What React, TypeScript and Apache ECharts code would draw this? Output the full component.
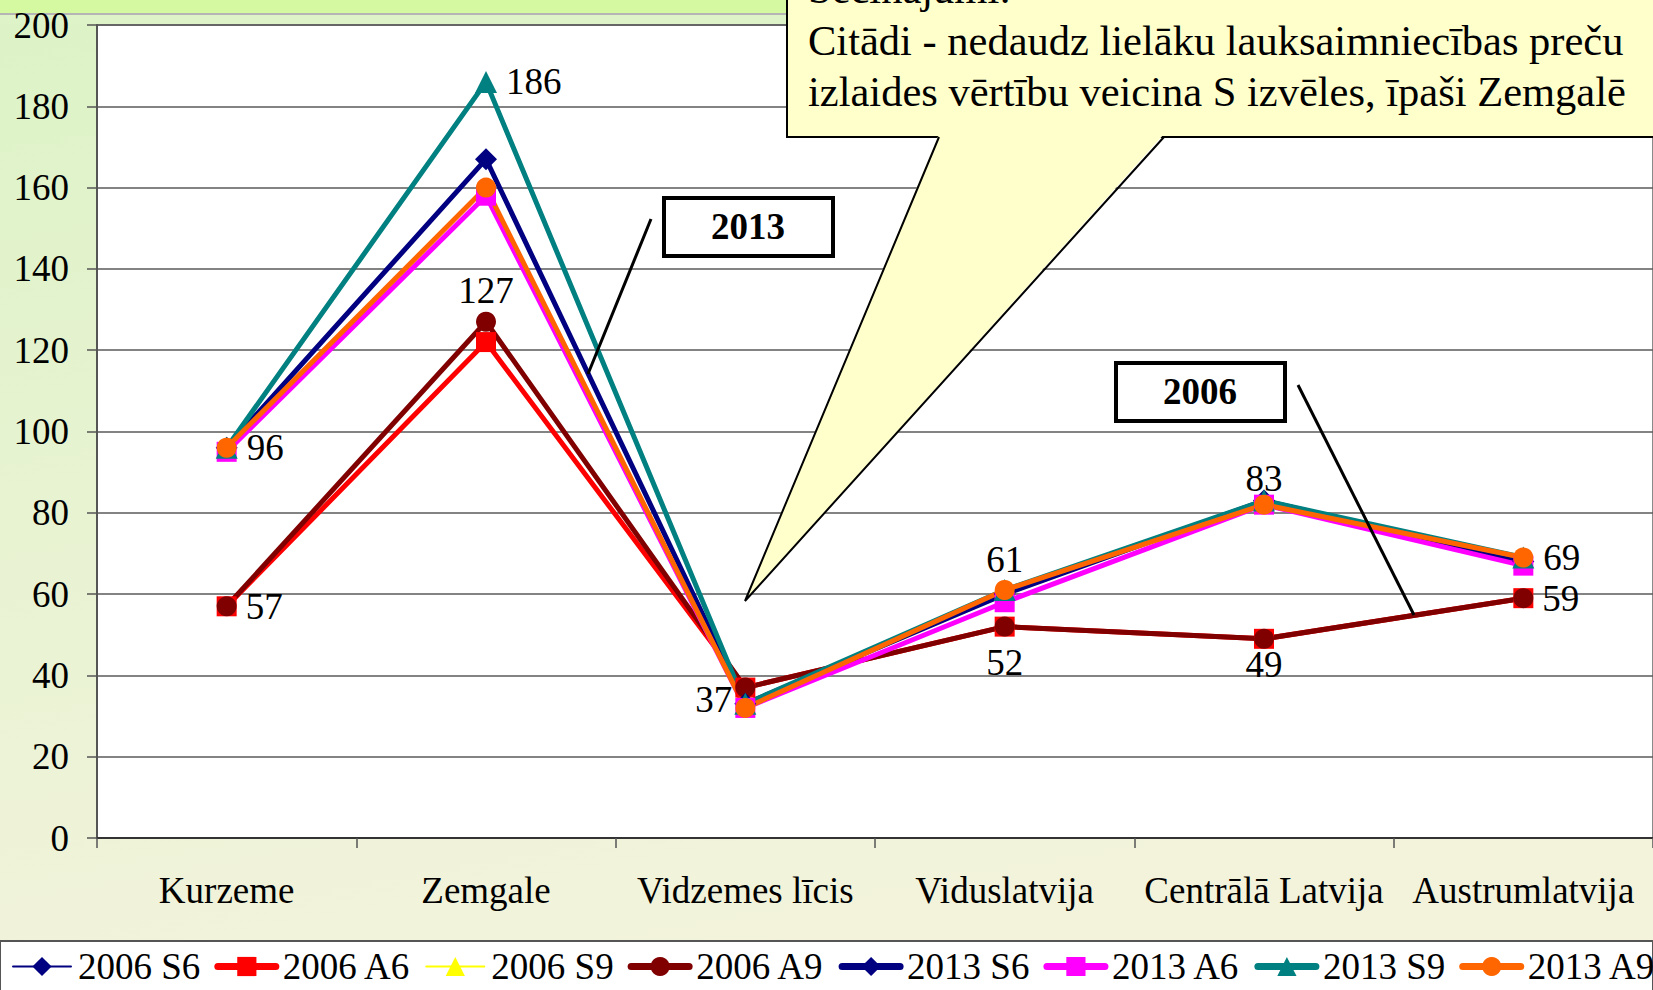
import React, { useEffect, useRef } from "react";
import * as echarts from "echarts";

const categories = ["Kurzeme", "Zemgale", "Vidzemes līcis", "Viduslatvija", "Centrālā Latvija", "Austrumlatvija"];
const yTicks = [0, 20, 40, 60, 80, 100, 120, 140, 160, 180, 200];

const s2006S6 = [57, 127, 37, 52, 49, 59];
const s2006A6 = [57, 122, 37, 52, 49, 59];
const s2006S9 = [57, 127, 37, 52, 49, 59];
const s2006A9 = [57, 127, 37, 52, 49, 59];
const s2013S6 = [96, 167, 33, 60, 83, 68];
const s2013A6 = [95, 158, 32, 58, 82, 67];
const s2013S9 = [96, 186, 33, 61, 83, 69];
const s2013A9 = [96, 160, 32, 61, 82, 69];

const seriesNames = ["2006 S6", "2006 A6", "2006 S9", "2006 A9", "2013 S6", "2013 A6", "2013 S9", "2013 A9"];

const calloutLines = [
  "Secinājumi:",
  "Citādi - nedaudz lielāku lauksaimniecības preču",
  "izlaides vērtību veicina S izvēles, īpaši Zemgalē",
];

const FONT = "'Liberation Serif', 'Times New Roman', serif";

// label placement per point: [position, distance, offsetX, offsetY] or null
type LP = [string, number, number, number] | null;
const labelPos2006: LP[] = [
  ["right", 9, 0, 0],
  ["top", 3, 0, 0],
  ["left", 9, 6, 12],
  ["bottom", 7, 0, 0],
  ["bottom", 0, 0, -3],
  ["right", 9, 0, 0],
];
const labelPos2013: LP[] = [
  ["right", 9, 0, 0],
  ["right", 9, 0, 0],
  null,
  ["top", 1, 0, 0],
  ["top", 0, 0, 7],
  ["right", 9, 0, 0],
];

function withLabels(values: number[], positions: LP[]) {
  return values.map((v, i) => {
    const p = positions[i];
    if (!p) return v;
    return {
      value: v,
      label: {
        show: true,
        position: p[0],
        distance: p[1],
        offset: [p[2], p[3]],
        fontFamily: FONT,
        fontSize: 37,
        color: "#000",
        formatter: "{c}",
      },
    };
  });
}

export default function App() {
  const ref = useRef<HTMLDivElement>(null);
  useEffect(() => {
    if (!ref.current) return;
    const chart = echarts.init(ref.current, undefined, { renderer: "svg" });

    const styles = [
      { color: "#000080", symbol: "diamond", size: 11, width: 2 },
      { color: "#ff0000", symbol: "rect", size: 20, width: 5 },
      { color: "#ffff00", symbol: "triangle", size: 11, width: 2 },
      { color: "#800000", symbol: "circle", size: 20, width: 5 },
      { color: "#000080", symbol: "diamond", size: 22, width: 5 },
      { color: "#ff00ff", symbol: "rect", size: 20, width: 5 },
      { color: "#008080", symbol: "triangle", size: 22, width: 5 },
      { color: "#ff6600", symbol: "circle", size: 20, width: 5 },
    ];
    const dataSets: any[] = [
      s2006S6,
      s2006A6,
      s2006S9,
      withLabels(s2006A9, labelPos2006),
      s2013S6,
      s2013A6,
      withLabels(s2013S9, labelPos2013),
      s2013A9,
    ];

    const series = seriesNames.map((name, i) => ({
      name,
      type: "line",
      data: dataSets[i],
      symbol: styles[i].symbol,
      symbolSize: styles[i].size,
      showAllSymbol: true,
      lineStyle: { color: styles[i].color, width: styles[i].width },
      itemStyle: { color: styles[i].color, borderWidth: 0 },
      emphasis: { disabled: true },
    }));

    const legendData = seriesNames.map((name, i) => ({
      name,
      lineStyle: { color: styles[i].color, width: styles[i].width === 2 ? 2 : 7, cap: "round" },
      itemStyle: { color: styles[i].color, borderWidth: 0 },
    }));

    const option: any = {
      animation: false,
      backgroundColor: {
        type: "linear",
        x: 0,
        y: 0,
        x2: 0.3,
        y2: 1,
        colorStops: [
          { offset: 0, color: "#dcf3c6" },
          { offset: 0.5, color: "#e8f3d2" },
          { offset: 1, color: "#f3f3dc" },
        ],
      },
      textStyle: { fontFamily: FONT },
      grid: {
        left: 97,
        top: 25,
        right: -2,
        bottom: 152,
        show: true,
        backgroundColor: "#ffffff",
        borderColor: "#8a8a8a",
        borderWidth: 2,
        containLabel: false,
      },
      xAxis: {
        type: "category",
        data: categories,
        boundaryGap: true,
        axisLine: { show: true, lineStyle: { color: "#333", width: 2 } },
        axisTick: { show: true, alignWithLabel: false, length: 10, lineStyle: { color: "#555", width: 1.5 } },
        axisLabel: { fontFamily: FONT, fontSize: 37, color: "#000", margin: 34, interval: 0 },
        splitLine: { show: false },
      },
      yAxis: {
        type: "value",
        min: yTicks[0],
        max: yTicks[yTicks.length - 1],
        interval: yTicks[1] - yTicks[0],
        axisLine: { show: true, lineStyle: { color: "#555", width: 2 } },
        axisTick: { show: true, inside: false, length: 10, lineStyle: { color: "#555", width: 1.5 } },
        axisLabel: { fontFamily: FONT, fontSize: 37, color: "#000", margin: 28 },
        splitLine: { show: true, lineStyle: { color: "#5a5a5a", width: 1.5 } },
      },
      legend: {
        show: true,
        type: "plain",
        orient: "horizontal",
        data: legendData,
        left: 12,
        top: 948,
        width: 1800,
        itemWidth: 58,
        itemHeight: 24,
        itemGap: 14,
        padding: 0,
        textStyle: { fontFamily: FONT, fontSize: 37, color: "#000", padding: [0, 0, 0, 2] },
        selectedMode: false,
      },
      series,
      graphic: [
        // top band
        { type: "rect", z: -10, shape: { x: 0, y: 0, width: 1653, height: 13 }, style: { fill: "#d5f9a0" } },
        { type: "rect", z: -10, shape: { x: 0, y: 13, width: 1653, height: 2 }, style: { fill: "#b5b5b5" } },
        { type: "rect", z: -10, shape: { x: 0, y: 15, width: 1653, height: 9 }, style: { fill: "#dff3c9" } },
        // legend box
        {
          type: "rect",
          z: -1,
          shape: { x: 0, y: 941, width: 1653, height: 52 },
          style: { fill: "#ffffff", stroke: "#555", lineWidth: 2 },
        },
        // callout
        {
          type: "rect",
          z: 100,
          shape: { x: 787, y: -20, width: 900, height: 157 },
          style: { fill: "#ffffcc", stroke: "#000", lineWidth: 2 },
        },
        {
          type: "polygon",
          z: 101,
          shape: { points: [[939, 134], [1164, 134], [745, 601]] },
          style: { fill: "#ffffcc" },
        },
        {
          type: "polyline",
          z: 102,
          shape: { points: [[939, 137], [745, 601], [1164, 137]] },
          style: { fill: "none", stroke: "#000", lineWidth: 2 },
        },
        {
          type: "text",
          z: 103,
          x: 808,
          y: -12,
          style: { text: calloutLines[0], font: `42.5px ${FONT}`, fill: "#000", verticalAlign: "middle" },
        },
        {
          type: "text",
          z: 103,
          x: 808,
          y: 40,
          style: { text: calloutLines[1], font: `42.5px ${FONT}`, fill: "#000", verticalAlign: "middle" },
        },
        {
          type: "text",
          z: 103,
          x: 808,
          y: 91,
          style: { text: calloutLines[2], font: `42.5px ${FONT}`, fill: "#000", verticalAlign: "middle" },
        },
        // 2013 box
        {
          type: "line",
          z: 100,
          shape: { x1: 651, y1: 219, x2: 588, y2: 374 },
          style: { stroke: "#000", lineWidth: 3 },
        },
        {
          type: "rect",
          z: 100,
          shape: { x: 664, y: 198, width: 169, height: 58 },
          style: { fill: "#ffffff", stroke: "#000", lineWidth: 4 },
        },
        {
          type: "text",
          z: 101,
          x: 748,
          y: 226,
          style: { text: "2013", font: `bold 37px ${FONT}`, fill: "#000", align: "center", verticalAlign: "middle" },
        },
        // 2006 box
        {
          type: "line",
          z: 100,
          shape: { x1: 1298, y1: 385, x2: 1414, y2: 615 },
          style: { stroke: "#000", lineWidth: 3 },
        },
        {
          type: "rect",
          z: 100,
          shape: { x: 1116, y: 363, width: 169, height: 58 },
          style: { fill: "#ffffff", stroke: "#000", lineWidth: 4 },
        },
        {
          type: "text",
          z: 101,
          x: 1200,
          y: 391,
          style: { text: "2006", font: `bold 37px ${FONT}`, fill: "#000", align: "center", verticalAlign: "middle" },
        },
      ],
    };

    chart.setOption(option);
    return () => chart.dispose();
  }, []);

  return (
    <div
      ref={ref}
      style={{ position: "fixed", left: 0, top: 0, width: 1653, height: 990 }}
    />
  );
}
